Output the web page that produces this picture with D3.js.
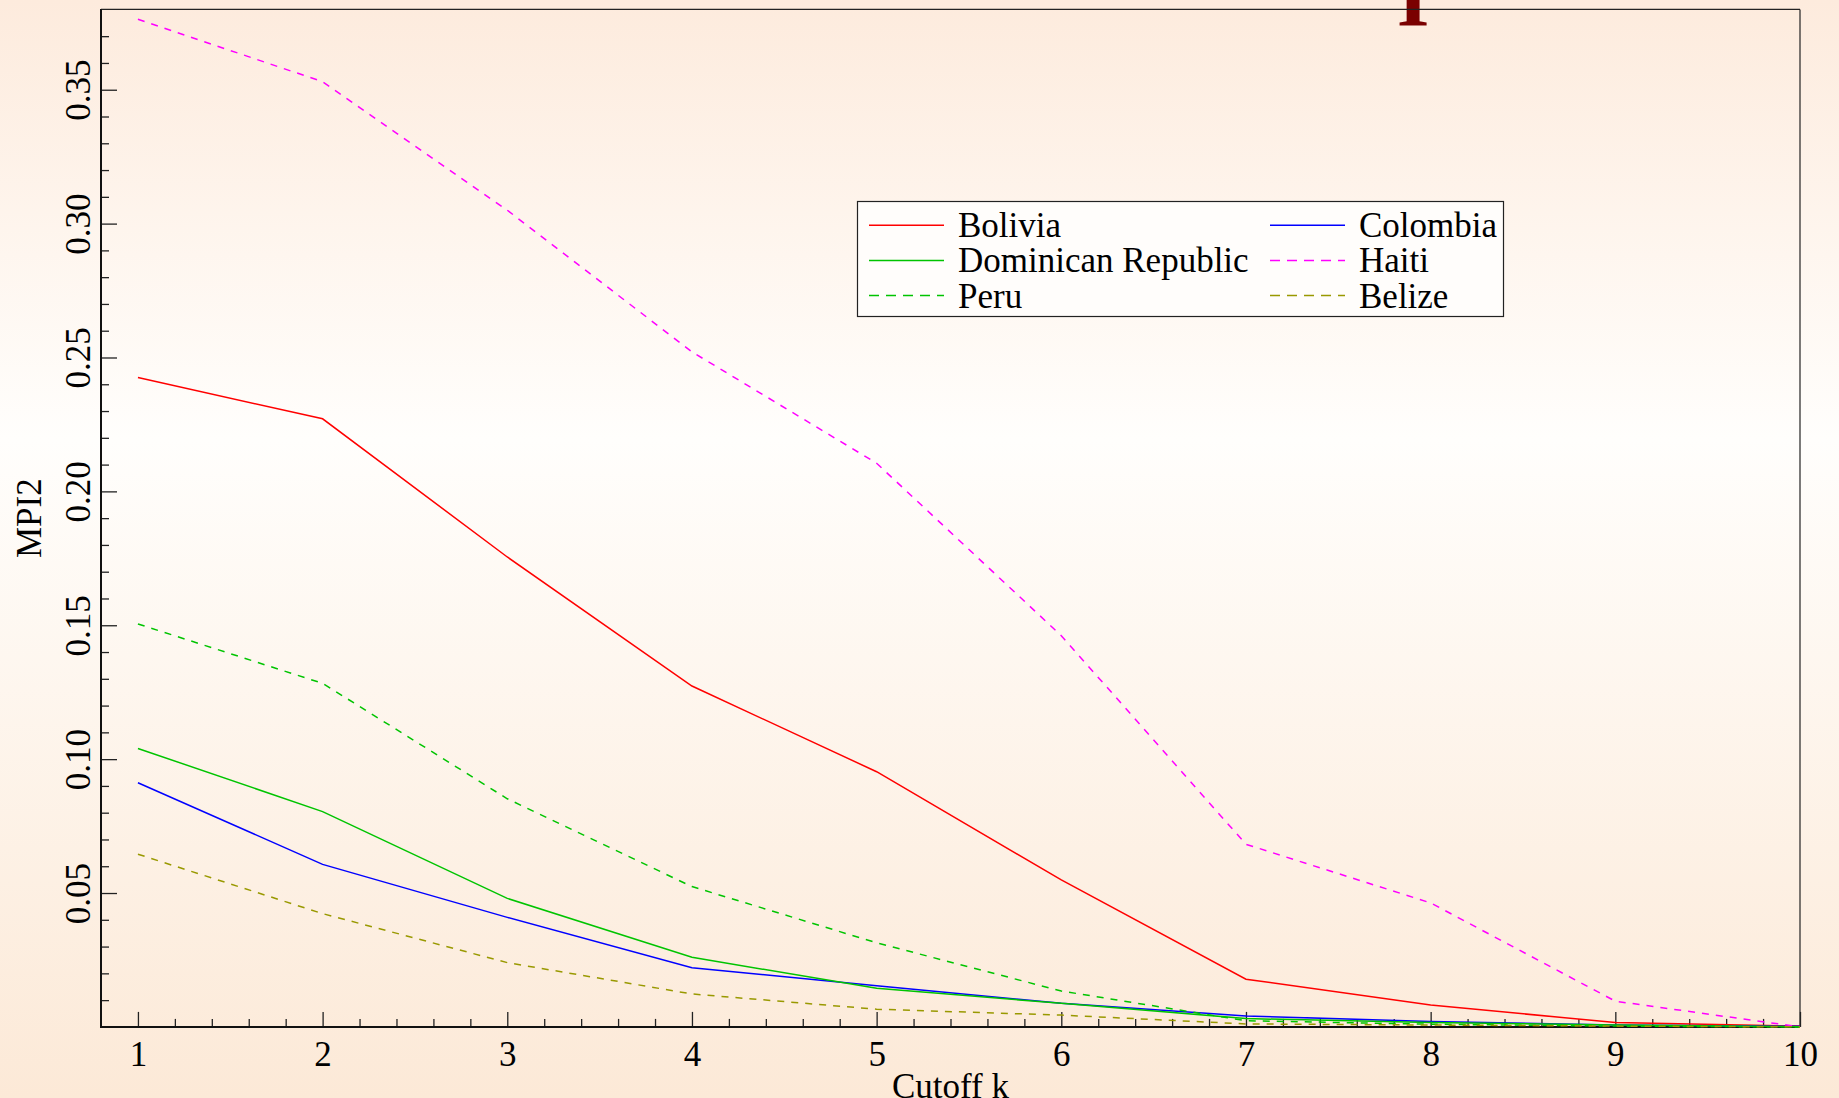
<!DOCTYPE html>
<html>
<head>
<meta charset="utf-8">
<script src="https://cdn.jsdelivr.net/npm/d3@7"></script>
<style>
  body { margin: 0; padding: 0; overflow: hidden; }
  svg { display: block; }
  text { font-family: "Liberation Serif", "Times New Roman", serif; }
</style>
</head>
<body>
<script>
// values
var cutoffs = [1, 2, 3, 4, 5, 6, 7, 8, 9, 10];
var bolivia   = [0.2425, 0.2271, 0.1755, 0.1273, 0.0953, 0.0549, 0.0178, 0.0082, 0.0016, 0.0003];
var colombia  = [0.0912, 0.0607, 0.0409, 0.0221, 0.0154, 0.0088, 0.0041, 0.0020, 0.0007, 0.0002];
var dominican = [0.1040, 0.0804, 0.0480, 0.0260, 0.0144, 0.0088, 0.0031, 0.0016, 0.0007, 0.0001];
var haiti     = [0.3763, 0.3530, 0.3050, 0.2521, 0.2105, 0.1461, 0.0682, 0.0463, 0.0096, 0.0000];
var peru      = [0.1505, 0.1283, 0.0852, 0.0524, 0.0314, 0.0134, 0.0023, 0.0010, 0.0003, 0.0000];
var belize    = [0.0645, 0.0423, 0.0240, 0.0123, 0.0066, 0.0044, 0.0011, 0.0007, 0.0003, 0.0000];

var seriesNames  = ["Bolivia", "Colombia", "Dominican Republic", "Haiti", "Peru", "Belize"];
var seriesValues = [bolivia, colombia, dominican, haiti, peru, belize];
var seriesColors = ["#ff0000", "#0000ff", "#00c400", "#ff00ff", "#00c400", "#999900"];
var seriesDashed = [false, false, false, true, true, true];

var xTicks = [1, 2, 3, 4, 5, 6, 7, 8, 9, 10];
var yTicks = [0.05, 0.10, 0.15, 0.20, 0.25, 0.30, 0.35];

var width = 1839, height = 1098;
var fontSize = 35;
// (window.top is read-only, so don't name these top/left...)
var plotL = 101, plotR = 1800, plotT = 9.4, plotB = 1026.9;

var svg = d3.select("body")
    .append("svg")
    .attr("width", width)
    .attr("height", height);

// page background gradient (peach -> white -> peach)
var grad = svg.append("defs").append("linearGradient")
    .attr("id", "bg")
    .attr("x1", 0).attr("y1", 0).attr("x2", 0).attr("y2", 1);
grad.append("stop").attr("offset", "0%").attr("stop-color", "#fdebdd");
grad.append("stop").attr("offset", "40%").attr("stop-color", "#fffefc");
grad.append("stop").attr("offset", "100%").attr("stop-color", "#fce9d7");

svg.append("rect")
    .attr("width", width)
    .attr("height", height)
    .attr("fill", "url(#bg)");

// bit of a title glyph cut off at the top edge
svg.append("text")
    .attr("x", 1413)
    .attr("y", 26)
    .attr("text-anchor", "middle")
    .attr("font-size", 84)
    .attr("font-weight", "bold")
    .attr("fill", "#7a0000")
    .text("I");

var x = d3.scaleLinear().domain([0.8, 10]).range([plotL, plotR]);
var y = d3.scaleLinear().domain([0, 0.38]).range([plotB, plotT]);

// frame: top/right thin, left/bottom heavier
svg.append("line").attr("x1", plotL).attr("x2", plotR).attr("y1", plotT).attr("y2", plotT)
    .attr("stroke", "#222").attr("stroke-width", 1.2);
svg.append("line").attr("x1", plotR).attr("x2", plotR).attr("y1", plotT).attr("y2", plotB)
    .attr("stroke", "#222").attr("stroke-width", 1.2);

// x axis - minor ticks
var xMinor = d3.range(5, 50).filter(function(i) { return i % 5 !== 0; }).map(function(i) { return i / 5; });
svg.append("g")
    .attr("transform", "translate(0," + plotB + ")")
    .call(d3.axisBottom(x).tickValues(xMinor).tickSize(-8).tickFormat(""))
    .call(function(g) { g.select(".domain").remove(); })
    .selectAll("line").attr("stroke", "#222").attr("stroke-width", 1.3);

// x axis - major ticks + labels
var xAxis = svg.append("g")
    .attr("transform", "translate(0," + plotB + ")")
    .call(d3.axisBottom(x).tickValues(xTicks).tickSize(-15).tickPadding(14).tickFormat(d3.format("d")));
xAxis.select(".domain").remove();
xAxis.selectAll("line").attr("stroke", "#222").attr("stroke-width", 1.3);
xAxis.selectAll("text")
    .attr("font-family", "Liberation Serif")
    .attr("font-size", fontSize)
    .attr("fill", "#000");

// y axis - minor ticks
var yMinor = d3.range(1, 38).filter(function(i) { return i % 5 !== 0; }).map(function(i) { return i / 100; });
svg.append("g")
    .attr("transform", "translate(" + plotL + ",0)")
    .call(d3.axisLeft(y).tickValues(yMinor).tickSize(-8).tickFormat(""))
    .call(function(g) { g.select(".domain").remove(); })
    .selectAll("line").attr("stroke", "#222").attr("stroke-width", 1.3);

// y axis - major ticks + rotated labels
var yAxis = svg.append("g")
    .attr("transform", "translate(" + plotL + ",0)")
    .call(d3.axisLeft(y).tickValues(yTicks).tickSize(-16).tickFormat(d3.format(".2f")));
yAxis.select(".domain").remove();
yAxis.selectAll("line").attr("stroke", "#222").attr("stroke-width", 1.3);
yAxis.selectAll("text")
    .attr("x", 0).attr("y", 0).attr("dy", 0)
    .attr("transform", "translate(-11,0) rotate(-90)")
    .attr("text-anchor", "middle")
    .attr("font-family", "Liberation Serif")
    .attr("font-size", fontSize)
    .attr("fill", "#000");

// left + bottom frame lines
svg.append("line").attr("x1", plotL).attr("x2", plotL).attr("y1", plotT - 0.5).attr("y2", plotB + 1)
    .attr("stroke", "#111").attr("stroke-width", 2);
svg.append("line").attr("x1", plotL - 1).attr("x2", plotR).attr("y1", plotB).attr("y2", plotB)
    .attr("stroke", "#111").attr("stroke-width", 2);

// axis titles
svg.append("text")
    .attr("x", (plotL + plotR) / 2)
    .attr("y", 1098)
    .attr("text-anchor", "middle")
    .attr("font-size", fontSize)
    .text("Cutoff k");

svg.append("text")
    .attr("transform", "translate(41," + ((plotT + plotB) / 2) + ") rotate(-90)")
    .attr("text-anchor", "middle")
    .attr("font-size", fontSize)
    .text("MPI2");

// series lines
var line = d3.line()
    .x(function(d, i) { return x(cutoffs[i]); })
    .y(function(d) { return y(d); });

svg.selectAll(".series")
    .data(seriesValues)
    .enter()
    .append("path")
    .attr("class", "series")
    .attr("d", line)
    .attr("fill", "none")
    .attr("stroke", function(d, i) { return seriesColors[i]; })
    .attr("stroke-width", 1.5)
    .attr("stroke-dasharray", function(d, i) { return seriesDashed[i] ? "7,7" : null; });

// legend box
var legend = svg.append("g");
legend.append("rect")
    .attr("x", 857.5).attr("y", 201.5)
    .attr("width", 646).attr("height", 115)
    .attr("fill", "#fffdfb")
    .attr("stroke", "#222")
    .attr("stroke-width", 1.2);

var colX = [869, 1270];
var rowY = [225.2, 260.4, 295.6];
seriesNames.forEach(function(name, i) {
    var cx = colX[i % 2], cy = rowY[Math.floor(i / 2)];
    legend.append("line")
        .attr("x1", cx).attr("x2", cx + 75)
        .attr("y1", cy).attr("y2", cy)
        .attr("stroke", seriesColors[i])
        .attr("stroke-width", 1.5)
        .attr("stroke-dasharray", seriesDashed[i] ? "10,7" : null);
    legend.append("text")
        .attr("x", cx + 89)
        .attr("y", cy + 12)
        .attr("font-size", fontSize)
        .text(name);
});
</script>
</body>
</html>
